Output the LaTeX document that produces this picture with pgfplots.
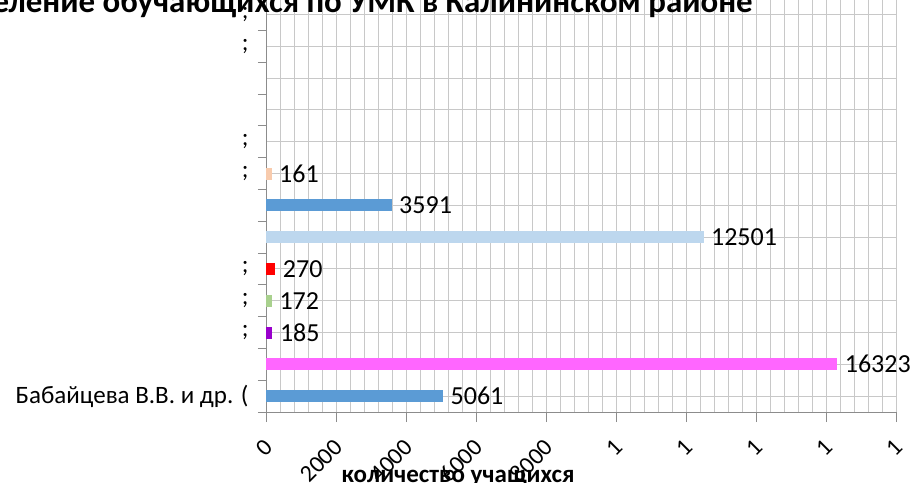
\documentclass[border=0pt]{standalone}
\usepackage{fontspec}
\setmainfont{Carlito}
\usepackage{pgfplots}
\pgfplotsset{compat=1.18}

\definecolor{barblue}{HTML}{5B9BD5}
\definecolor{barpink}{HTML}{FF66FF}
\definecolor{barpurple}{HTML}{9900CC}
\definecolor{bargreen}{HTML}{A9D18E}
\definecolor{barred}{HTML}{FF0000}
\definecolor{barlight}{HTML}{BDD7EE}
\definecolor{barpeach}{HTML}{F8CBAD}
\definecolor{gridgray}{HTML}{C8C8C8}
\definecolor{axisgray}{HTML}{8C8C8C}

\begin{document}
\begin{tikzpicture}
\useasboundingbox (0,0) rectangle (917pt,-482pt);
\begin{axis}[
    at={(266pt,-412pt)}, anchor=south west,
    scale only axis, width=630pt, height=413.4pt,
    xbar, bar width=12pt, bar shift=0pt,
    xmin=0, xmax=18000, ymin=-0.5, ymax=12.5,
    axis x line*=bottom, axis y line*=left,
    axis line style={-, draw=axisgray, line width=1pt},
    scaled x ticks=false,
    xtick={0,2000,...,18000},
    xticklabels={0,2000,4000,6000,8000,1,1,1,1,1},
    minor x tick num=4,
    ytick={0,...,12},
    yticklabels={{Бабайцева В.В. и др. (},{},{;},{;},{;},{},{},{;},{;},{},{},{;},{;}},
    minor ytick={-0.5,0.5,...,12.5},
    xmajorgrids, xminorgrids, ymajorgrids,
    grid style={draw=gridgray, line width=1pt},
    minor grid style={draw=gridgray, line width=1pt},
    tick align=outside,
    major tick length=10pt, minor tick length=8pt,
    xtick style={/pgfplots/minor tick length=0pt, draw=axisgray, line width=1pt},
    ytick style={/pgfplots/major tick length=0pt, draw=axisgray, line width=1pt},
    xticklabel style={xshift=5pt, yshift=-19pt, rotate=45, anchor=east,
      font=\fontsize{24}{29}\selectfont},
    yticklabel style={font=\fontsize{25}{30}\selectfont, xshift=-4pt},
    xlabel={количество учащихся},
    xlabel style={at={(rel axis cs:0.305,0)}, anchor=base, yshift=-70pt,
      font=\bfseries\fontsize{25}{30}\selectfont},
    point meta=x,
    /pgf/number format/1000 sep={},
    /pgf/number format/assume math mode=true,
    every node near coord/.append style={font=\fontsize{26}{31}\selectfont,
      text=black, anchor=west, xshift=4pt},
    clip=false,
]
\addplot[draw=none, fill=barblue, nodes near coords] coordinates {(5061,0)};
\addplot[draw=none, fill=barpink, nodes near coords] coordinates {(16323,1)};
\addplot[draw=none, fill=barpurple, nodes near coords] coordinates {(185,2)};
\addplot[draw=none, fill=bargreen, nodes near coords] coordinates {(172,3)};
\addplot[draw=none, fill=barred, nodes near coords] coordinates {(270,4)};
\addplot[draw=none, fill=barlight, nodes near coords] coordinates {(12501,5)};
\addplot[draw=none, fill=barblue, nodes near coords] coordinates {(3591,6)};
\addplot[draw=none, fill=barpeach, nodes near coords] coordinates {(161,7)};
\end{axis}
\node[anchor=base east, inner sep=0pt, font=\bfseries\fontsize{32.9}{39}\selectfont] at (753pt,-12.5pt)
  {Распределение обучающихся по УМК в Калининском районе};
\end{tikzpicture}
\end{document}
